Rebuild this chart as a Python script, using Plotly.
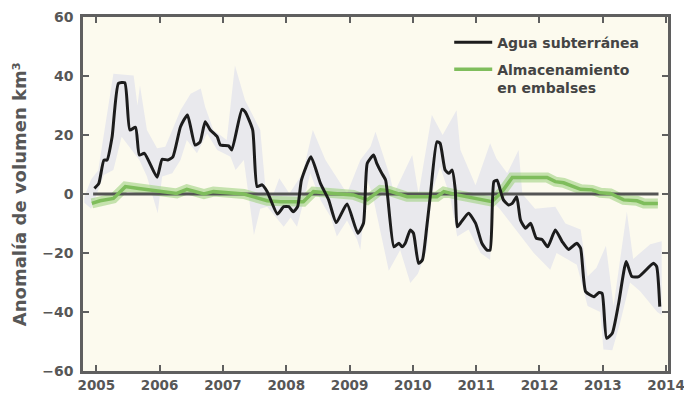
import plotly.graph_objects as go

# ---------------- data ----------------
gw_year = [2004.97, 2005.04, 2005.12, 2005.17, 2005.25, 2005.35, 2005.45, 2005.53, 2005.62, 2005.68,
           2005.76, 2005.96, 2006.04, 2006.13, 2006.21, 2006.33, 2006.44, 2006.56, 2006.64, 2006.72,
           2006.80, 2006.91, 2006.96, 2007.09, 2007.14, 2007.30, 2007.35, 2007.47, 2007.54, 2007.62,
           2007.70, 2007.86, 2007.96, 2008.04, 2008.11, 2008.18, 2008.24, 2008.39, 2008.54, 2008.67,
           2008.79, 2008.96, 2009.13, 2009.22, 2009.28, 2009.38, 2009.43, 2009.51, 2009.57, 2009.70,
           2009.78, 2009.83, 2009.88, 2009.96, 2010.01, 2010.09, 2010.15, 2010.22, 2010.28, 2010.38,
           2010.43, 2010.51, 2010.57, 2010.62, 2010.67, 2010.70, 2010.75, 2010.88, 2010.99, 2011.09,
           2011.17, 2011.22, 2011.28, 2011.33, 2011.38, 2011.43, 2011.51, 2011.57, 2011.64, 2011.70,
           2011.78, 2011.86, 2011.95, 2012.04, 2012.13, 2012.25, 2012.36, 2012.46, 2012.59, 2012.65,
           2012.73, 2012.86, 2012.94, 2012.99, 2013.06, 2013.15, 2013.25, 2013.37, 2013.46, 2013.57,
           2013.80, 2013.85, 2013.90]
gw_value = [1.9, 3.6, 11.5, 11.5, 19.4, 37.5, 37.7, 21.7, 22.6, 13.2,
            13.8, 5.7, 11.8, 11.5, 12.6, 22.8, 26.8, 16.6, 17.7, 24.5,
            21.7, 19.4, 16.6, 16.3, 14.9, 28.7, 27.9, 21.7, 2.5, 3.1,
            0.8, -6.8, -4.3, -4.3, -6.0, -4.3, 4.7, 12.6, 3.6, -2.0,
            -9.7, -3.4, -13.3, -9.9, 10.4, 13.2, 10.4, 7.0, 4.7, -17.9,
            -16.7, -17.9, -16.7, -12.2, -13.3, -23.5, -22.4, -11.1, 0.2, 17.7,
            17.2, 8.1, 7.0, 8.1, 1.4, -11.1, -9.9, -6.5, -9.9, -16.7,
            -19.0, -19.0, 4.2, 4.7, 1.4, -2.0, -3.7, -3.2, -0.9, -8.8,
            -11.6, -9.9, -15.0, -15.4, -17.9, -12.2, -16.2, -18.8, -16.7, -18.4,
            -33.1, -34.8, -33.4, -33.7, -48.9, -47.2, -37.1, -22.9, -28.0, -28.0,
            -23.5, -24.5, -38.2]

# uncertainty envelope of groundwater anomaly
band_up_year = [2004.81, 2004.92, 2005.03, 2005.09, 2005.27, 2005.59, 2005.65, 2005.69, 2005.80, 2005.96,
                2006.09, 2006.33, 2006.49, 2006.65, 2006.72, 2006.85, 2007.06, 2007.08, 2007.19, 2007.35,
                2007.59, 2007.67, 2007.78, 2007.89, 2008.05, 2008.26, 2008.42, 2008.62, 2008.96, 2009.17,
                2009.33, 2009.41, 2009.64, 2009.70, 2009.99, 2010.09, 2010.30, 2010.47, 2010.69, 2010.75,
                2010.99, 2011.22, 2011.32, 2011.49, 2011.67, 2011.73, 2011.93, 2012.25, 2012.41, 2012.65,
                2012.76, 2012.90, 2013.05, 2013.17, 2013.38, 2013.48, 2013.75, 2013.93]
band_up_value = [-1.0, 5.0, 8.0, 16.6, 40.8, 40.2, 30.0, 36.8, 21.7, 15.5,
                 16.0, 28.4, 34.0, 35.8, 29.5, 21.7, 18.3, 22.0, 43.6, 31.8,
                 21.7, 2.5, -1.0, 5.3, 0.2, 7.0, 21.7, 11.5, 0.2, 11.5,
                 16.0, 21.1, 5.9, 0.2, 13.2, 0.0, 26.8, 20.0, 28.4, 15.0,
                 3.0, 17.2, 12.0, 7.0, 14.9, 0.0, -5.0, -4.3, -10.0, -12.0,
                 -28.0, -25.0, -17.5, -38.0, -6.0, -22.0, -17.0, -16.0]
band_lo_year = [2004.81, 2004.92, 2005.12, 2005.27, 2005.40, 2005.68, 2005.80, 2005.97, 2006.04, 2006.20,
                2006.33, 2006.43, 2006.59, 2006.75, 2006.91, 2007.12, 2007.20, 2007.33, 2007.49, 2007.59,
                2007.70, 2007.96, 2008.07, 2008.17, 2008.28, 2008.38, 2008.54, 2008.70, 2008.80, 2008.96,
                2009.12, 2009.17, 2009.28, 2009.36, 2009.62, 2009.80, 2009.96, 2010.08, 2010.22, 2010.30,
                2010.43, 2010.59, 2010.70, 2010.88, 2011.07, 2011.22, 2011.27, 2011.37, 2011.59, 2011.91,
                2012.17, 2012.27, 2012.59, 2012.76, 2012.96, 2013.01, 2013.15, 2013.27, 2013.43, 2013.59,
                2013.86, 2013.93]
band_lo_value = [-3.0, -5.0, 6.4, 8.1, 19.4, 11.5, 5.9, -6.5, 5.9, 7.0,
                 11.5, 18.3, 13.8, 20.5, 14.9, 12.6, 8.1, 11.5, -13.9, -5.0,
                 -4.3, -11.1, -8.0, -11.1, -2.0, 7.0, -2.0, -7.7, -14.4, -9.0,
                 -15.5, -19.0, 4.7, 0.0, -26.0, -19.0, -30.2, -27.0, -19.0, 0.2,
                 9.2, -0.9, -14.4, -12.0, -20.0, -22.4, -3.0, -5.0, -11.1, -20.0,
                 -25.7, -20.0, -24.0, -38.0, -40.0, -52.7, -53.0, -44.0, -30.0, -33.0,
                 -40.0, -41.0]

res_year = [2004.93, 2005.06, 2005.27, 2005.46, 2005.67, 2006.01, 2006.27, 2006.43, 2006.70, 2006.85,
            2007.12, 2007.33, 2007.70, 2007.91, 2008.27, 2008.43, 2008.75, 2009.06, 2009.28, 2009.49,
            2009.62, 2009.91, 2010.38, 2010.49, 2010.70, 2010.91, 2011.25, 2011.41, 2011.57, 2012.12,
            2012.25, 2012.38, 2012.65, 2012.83, 2012.96, 2013.12, 2013.33, 2013.54, 2013.65, 2013.87]
res_value = [-3.2, -2.3, -1.5, 2.5, 1.9, 0.8, 0.2, 1.6, 0.0, 0.8,
             0.2, 0.0, -2.3, -2.6, -2.6, 0.8, 0.2, -0.3, -2.0, 1.4,
             1.1, -0.9, -0.9, 0.8, -0.3, -1.2, -2.6, 0.8, 5.6, 5.6,
             4.2, 3.8, 1.6, 1.4, 0.4, 0.2, -2.0, -2.3, -3.2, -3.2]

zero_extent = [2004.95, 2013.88]
year_ticks = [2005, 2006, 2007, 2008, 2009, 2010, 2011, 2012, 2013, 2014]
value_ticks = [-60, -40, -20, 0, 20, 40, 60]
y_title = "Anomalía de volumen km³"
name_gw = "Agua subterránea"
name_res = "Almacenamiento<br>en embalses"

# ---------------- figure ----------------
FONT = "DejaVu Sans"
GRAY = "#575757"

fig = go.Figure()

fig.add_trace(go.Scatter(
    x=band_up_year + band_lo_year[::-1],
    y=band_up_value + band_lo_value[::-1],
    fill="toself", fillcolor="#e9e9ed", line=dict(width=0),
    mode="lines", showlegend=False, hoverinfo="skip"))

fig.add_trace(go.Scatter(
    x=res_year, y=res_value, mode="lines",
    line=dict(color="rgba(160,210,130,0.6)", width=10),
    showlegend=False, hoverinfo="skip"))

fig.add_trace(go.Scatter(
    x=zero_extent, y=[0, 0], mode="lines",
    line=dict(color="#545454", width=3),
    showlegend=False, hoverinfo="skip"))

fig.add_trace(go.Scatter(
    x=res_year, y=res_value, mode="lines", name=name_res,
    legendgroup="res", legendrank=2,
    line=dict(color="#7fbd5c", width=3.5)))

fig.add_trace(go.Scatter(
    x=gw_year, y=gw_value, mode="lines", name=name_gw,
    legendgroup="gw", legendrank=1,
    line=dict(color="#1c1c1c", width=3, shape="spline", smoothing=0.5)))

axis_common = dict(
    showline=True, linecolor="#5f5f5f", linewidth=2.5, mirror="ticks",
    ticks="inside", ticklen=6, tickwidth=1.5, tickcolor="#5f5f5f",
    showgrid=False, zeroline=False, automargin=False,
)

fig.update_layout(
    width=684, height=396,
    margin=dict(l=83, r=16, t=17, b=25, autoexpand=False),
    paper_bgcolor="white", plot_bgcolor="#fcfaee",
    xaxis=dict(range=[2004.79, 2014.03], tickvals=year_ticks,
               ticktext=[str(v) for v in year_ticks], ticklabeloverflow="allow",
               tickfont=dict(family=FONT, size=13.5, color=GRAY, weight="bold"),
               **axis_common),
    yaxis=dict(range=[-60, 60], tickvals=value_ticks, ticklabelstandoff=4,
               tickfont=dict(family=FONT, size=14, color=GRAY, weight="bold"),
               **axis_common),
    legend=dict(x=0.626, y=0.973, xanchor="left", yanchor="top",
                bgcolor="rgba(0,0,0,0)", valign="top", tracegroupgap=6, itemwidth=38,
                font=dict(family=FONT, size=14, color="#444444", weight="bold"),
                traceorder="grouped"),
    annotations=[dict(text=y_title, xref="paper", yref="paper", x=-0.109, y=0.5,
                      xanchor="center", yanchor="middle", textangle=-90, showarrow=False,
                      font=dict(family=FONT, size=18, color=GRAY, weight="bold"))],
    showlegend=True,
)

fig.write_html("out.html", config={"displayModeBar": False},
               post_script="document.body.style.margin='0';document.body.style.overflow='hidden';")
